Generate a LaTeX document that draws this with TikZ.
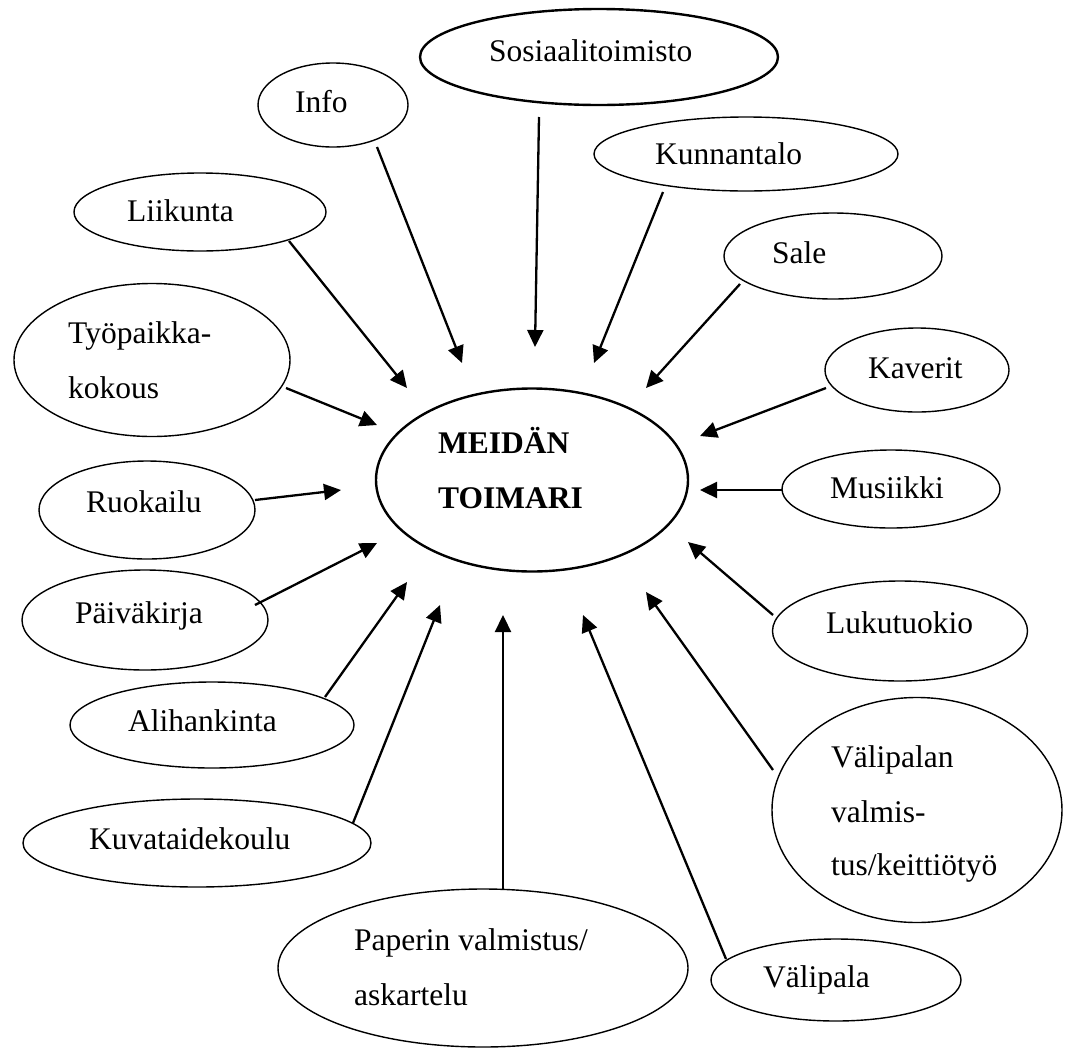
\documentclass[tikz,border=0pt]{standalone}
\usepackage{fontspec}
\setmainfont{Liberation Serif}
\usetikzlibrary{shapes.geometric,arrows.meta}
\tikzset{
  oval/.style={draw, ellipse, inner sep=0pt, line width=1.4pt},
  thickoval/.style={oval, line width=2.4pt},
  lbl/.style={anchor=base west, inner sep=0pt, font=\fontsize{31.5}{38}\selectfont},
  blbl/.style={lbl, font=\fontsize{31.5}{38}\selectfont\bfseries},
  arr/.style={line width=2.3pt, -{Triangle[length=17pt,width=16pt]}}
}
\begin{document}
\begin{tikzpicture}[x=1pt,y=-1pt]
\useasboundingbox (0,0) rectangle (1066,1050);
% ellipses
\node[thickoval, minimum width=358pt, minimum height=96pt] (sos) at (599,57) {};
\node[oval, minimum width=150pt, minimum height=84pt] (info) at (333,105) {};
\node[oval, minimum width=304pt, minimum height=74pt] (kunn) at (746,154) {};
\node[oval, minimum width=252pt, minimum height=78pt] (liik) at (200,212) {};
\node[oval, minimum width=218pt, minimum height=86pt] (sale) at (833,256) {};
\node[oval, minimum width=276pt, minimum height=153pt] (tyo) at (152,360) {};
\node[oval, minimum width=184pt, minimum height=84pt] (kav) at (917,370) {};
\node[thickoval, minimum width=312pt, minimum height=183pt] (meid) at (532,480) {};
\node[oval, minimum width=216pt, minimum height=98pt] (ruok) at (147,510) {};
\node[oval, minimum width=218pt, minimum height=78pt] (mus) at (891,489) {};
\node[oval, minimum width=246pt, minimum height=100pt] (paiv) at (145,620) {};
\node[oval, minimum width=255pt, minimum height=100pt] (luku) at (900,631) {};
\node[oval, minimum width=284pt, minimum height=86pt] (alih) at (212,725) {};
\node[oval, minimum width=290pt, minimum height=225pt] (valm) at (917,810) {};
\node[oval, minimum width=348pt, minimum height=88pt] (kuva) at (197,843) {};
\node[oval, minimum width=410pt, minimum height=158pt] (pap) at (483,968) {};
\node[oval, minimum width=250pt, minimum height=82pt] (vali) at (836,980) {};
% labels
\node[lbl] (sosT) at (489,61) {Sosiaalitoimisto};
\node[lbl] (infoT) at (295,112) {Info};
\node[lbl] (kunnT) at (655,164) {Kunnantalo};
\node[lbl] (liikT) at (127,221) {Liikunta};
\node[lbl] (saleT) at (772,263) {Sale};
\node[lbl] (tyoT1) at (68,343) {Työpaikka-};
\node[lbl] (tyoT2) at (68,398) {kokous};
\node[lbl] (kavT) at (868,378) {Kaverit};
\node[blbl] (meidT1) at (438,453) {MEIDÄN};
\node[blbl] (meidT2) at (438,508) {TOIMARI};
\node[lbl] (ruokT) at (86,512) {Ruokailu};
\node[lbl] (musT) at (830,498) {Musiikki};
\node[lbl] (paivT) at (75,623) {Päiväkirja};
\node[lbl] (lukuT) at (826,633) {Lukutuokio};
\node[lbl] (alihT) at (128,731) {Alihankinta};
\node[lbl] (valmT1) at (831,767) {Välipalan};
\node[lbl] (valmT2) at (831,822) {valmis-};
\node[lbl] (valmT3) at (831,875) {tus/keittiötyö};
\node[lbl] (kuvaT) at (89,849) {Kuvataidekoulu};
\node[lbl] (papT1) at (354,950) {Paperin valmistus/};
\node[lbl] (papT2) at (354,1005) {askartelu};
\node[lbl] (valiT) at (763,987) {Välipala};
% connector ends
\coordinate (t1) at (289,241);  \coordinate (h1) at (407,388);
\coordinate (t2) at (377,147);  \coordinate (h2) at (462,363);
\coordinate (t3) at (539,117);  \coordinate (h3) at (535,347);
\coordinate (t4) at (663,192);  \coordinate (h4) at (594,363);
\coordinate (t5) at (740,284);  \coordinate (h5) at (646,388);
\coordinate (t6) at (826,388);  \coordinate (h6) at (700,436);
\coordinate (t7) at (782,490);  \coordinate (h7) at (700,490);
\coordinate (t8) at (286,388);  \coordinate (h8) at (377,425);
\coordinate (t9) at (255,500);  \coordinate (h9) at (341,490);
\coordinate (t10) at (255,605); \coordinate (h10) at (377,543);
\coordinate (t11) at (325,697); \coordinate (h11) at (407,582);
\coordinate (t12) at (353,823); \coordinate (h12) at (440,605);
\coordinate (t13) at (503,889); \coordinate (h13) at (503,615);
\coordinate (t14) at (726,959); \coordinate (h14) at (583,615);
\coordinate (t15) at (773,770); \coordinate (h15) at (646,592);
\coordinate (t16) at (773,615); \coordinate (h16) at (688,542);
\foreach \i in {1,...,16} { \draw[arr] (t\i) -- (h\i); }
\end{tikzpicture}
\end{document}
